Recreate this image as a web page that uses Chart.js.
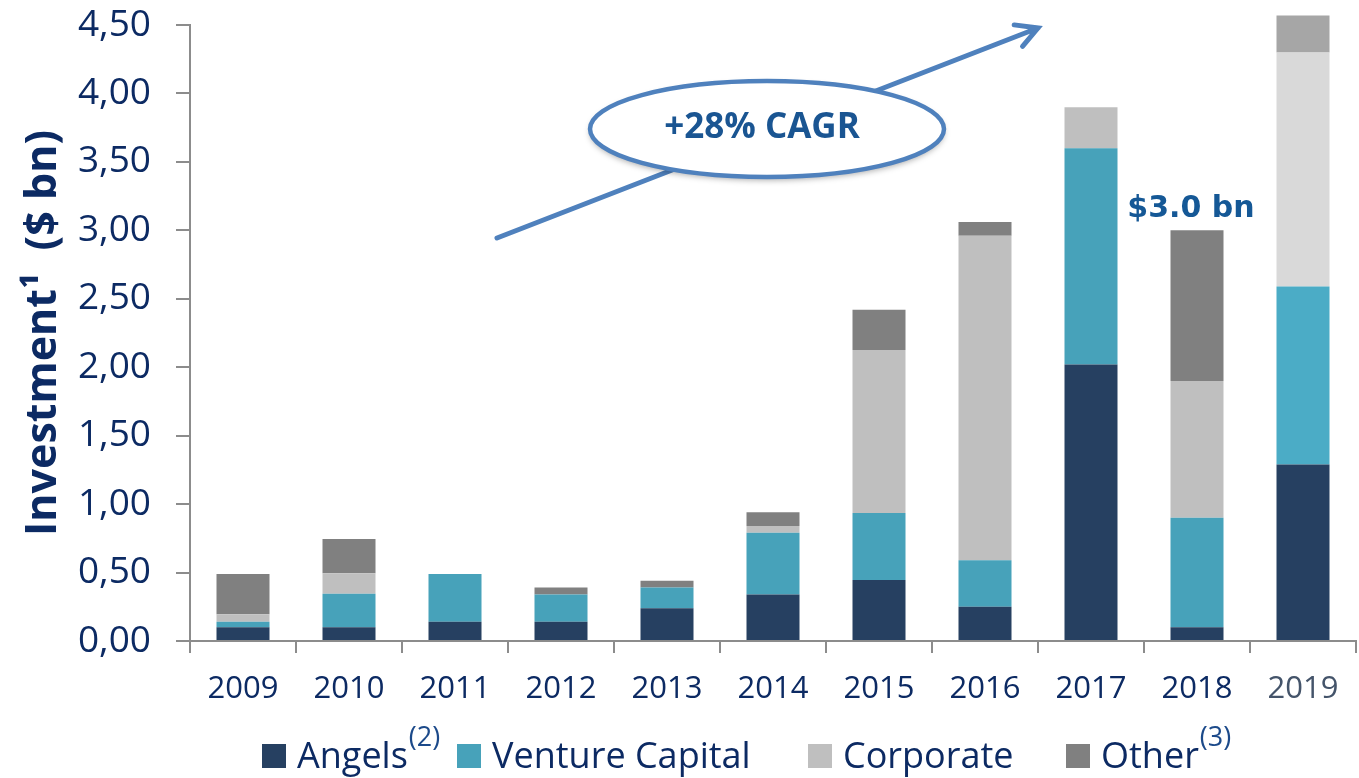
<!DOCTYPE html>
<html>
<head>
<meta charset="utf-8">
<script src="https://cdn.jsdelivr.net/npm/chart.js@4.4.1/dist/chart.umd.min.js"></script>
<style>
  html, body { margin: 0; padding: 0; background: #fff; }
</style>
</head>
<body>
<canvas id="myChart" width="1359" height="778"></canvas>
<script>
// values in $ bn
const years = ['2009', '2010', '2011', '2012', '2013', '2014', '2015', '2016', '2017', '2018', '2019'];
const angels    = [0.10, 0.10, 0.14, 0.14, 0.24, 0.34, 0.445, 0.25, 2.02, 0.10, 1.29];
const venture   = [0.04, 0.245, 0.35, 0.20, 0.15, 0.45, 0.49, 0.34, 1.58, 0.80, 1.30];
const corporate = [0.055, 0.15, 0, 0, 0, 0.05, 1.19, 2.37, 0.30, 1.00, 1.71];
const other     = [0.295, 0.25, 0, 0.05, 0.05, 0.10, 0.295, 0.10, 0, 1.10, 0.27];
const yTicks = [0, 0.5, 1, 1.5, 2, 2.5, 3, 3.5, 4, 4.5];

const navy = '#0c2a63';
const last = years.length - 1;

// the last year (2019) is drawn in a lighter palette in the original
function perBar(base, lastColor) {
    return years.map((y, i) => i === last ? lastColor : base);
}

const annotations = {
    id: 'annotations',
    afterDraw(chart) {
        const ctx = chart.ctx;
        const x = chart.scales.x;
        const y = chart.scales.y;
        ctx.save();

        // CAGR arrow
        const x1 = 497, y1 = 238, x2 = 1038, y2 = 28;
        ctx.strokeStyle = '#4f81bd';
        ctx.lineWidth = 5;
        ctx.lineCap = 'round';
        ctx.beginPath();
        ctx.moveTo(x1, y1);
        ctx.lineTo(x2, y2);
        const ang = Math.atan2(y2 - y1, x2 - x1);
        const hl = 24;
        ctx.moveTo(x2 - hl * Math.cos(ang - 0.5), y2 - hl * Math.sin(ang - 0.5));
        ctx.lineTo(x2, y2);
        ctx.lineTo(x2 - hl * Math.cos(ang + 0.5), y2 - hl * Math.sin(ang + 0.5));
        ctx.stroke();

        // ellipse
        ctx.save();
        ctx.shadowColor = 'rgba(0,0,0,0.35)';
        ctx.shadowBlur = 6;
        ctx.shadowOffsetY = 3;
        ctx.beginPath();
        ctx.ellipse(767, 129, 177, 48, 0, 0, Math.PI * 2);
        ctx.fillStyle = '#fff';
        ctx.fill();
        ctx.restore();
        ctx.beginPath();
        ctx.ellipse(767, 129, 177, 48, 0, 0, Math.PI * 2);
        ctx.lineWidth = 4.5;
        ctx.strokeStyle = '#4f81bd';
        ctx.stroke();

        ctx.fillStyle = '#1a5592';
        ctx.font = 'bold 35px "Open Sans"';
        ctx.textAlign = 'center';
        ctx.textBaseline = 'middle';
        ctx.fillText('+28% CAGR', 762, 128);

        // total label over 2018
        ctx.font = 'bold 30px "DejaVu Sans"';
        ctx.fillStyle = '#155896';
        ctx.textBaseline = 'alphabetic';
        ctx.fillText('$3.0 bn', x.getPixelForValue(9) - 6, y.getPixelForValue(3.0) - 13);

        // legend
        const items = [
            { label: 'Angels', sup: '(2)', color: '#264061', x: 262 },
            { label: 'Venture Capital', sup: '', color: '#47a2ba', x: 457 },
            { label: 'Corporate', sup: '', color: '#bfbfbf', x: 808 },
            { label: 'Other', sup: '(3)', color: '#808080', x: 1066 }
        ];
        ctx.textAlign = 'left';
        items.forEach(it => {
            ctx.fillStyle = it.color;
            ctx.fillRect(it.x, 744, 24, 24);
            ctx.fillStyle = navy;
            ctx.font = '36px "Open Sans"';
            ctx.fillText(it.label, it.x + 35, 768);
            if (it.sup) {
                const w = ctx.measureText(it.label).width;
                ctx.font = '27px "Open Sans"';
                ctx.fillStyle = '#1c4a8a';
                ctx.fillText(it.sup, it.x + 36 + w, 746);
            }
        });
        ctx.restore();
    }
};

new Chart(document.getElementById('myChart'), {
    type: 'bar',
    data: {
        labels: years,
        datasets: [{
            label: 'Angels',
            data: angels,
            backgroundColor: perBar('#264061', '#264061')
        }, {
            label: 'Venture Capital',
            data: venture,
            backgroundColor: perBar('#47a2ba', '#4bacc6')
        }, {
            label: 'Corporate',
            data: corporate,
            backgroundColor: perBar('#bfbfbf', '#d9d9d9')
        }, {
            label: 'Other',
            data: other,
            backgroundColor: perBar('#808080', '#a6a6a6')
        }]
    },
    options: {
        responsive: false,
        animation: false,
        clip: false,
        layout: { padding: { left: 0, top: 25, right: 3, bottom: 0 } },
        datasets: {
            bar: { categoryPercentage: 1, barPercentage: 0.5, borderWidth: 0 }
        },
        plugins: {
            legend: { display: false },
            tooltip: { enabled: false }
        },
        scales: {
            x: {
                stacked: true,
                afterFit: s => { s.height = 137; s.paddingLeft = 0; s.paddingRight = 0; },
                border: { color: '#8c8c8c', width: 2 },
                grid: { offset: true, drawOnChartArea: false, tickLength: 12, color: '#8c8c8c', lineWidth: 2 },
                ticks: {
                    padding: 18,
                    color: c => c.index === last ? '#44546a' : navy,
                    font: { family: '"Open Sans"', size: 31 }
                }
            },
            y: {
                stacked: true,
                min: 0,
                max: 4.5,
                afterFit: s => { s.width = 190; s.paddingTop = 0; s.paddingBottom = 0; },
                afterBuildTicks: s => { s.ticks = yTicks.map(v => ({ value: v })); },
                border: { color: '#8c8c8c', width: 2 },
                grid: { drawOnChartArea: false, tickLength: 14, color: '#8c8c8c', lineWidth: 2 },
                ticks: {
                    padding: 25,
                    color: navy,
                    font: { family: '"Open Sans"', size: 37 },
                    callback: v => v.toFixed(2).replace('.', ',')
                },
                title: {
                    display: true,
                    text: 'Investment\u00b9  ($ bn)',
                    color: navy,
                    font: { family: '"Open Sans"', size: 43, weight: 'bold' },
                    padding: { top: 18, bottom: 0 }
                }
            }
        }
    },
    plugins: [annotations]
});
</script>
</body>
</html>
